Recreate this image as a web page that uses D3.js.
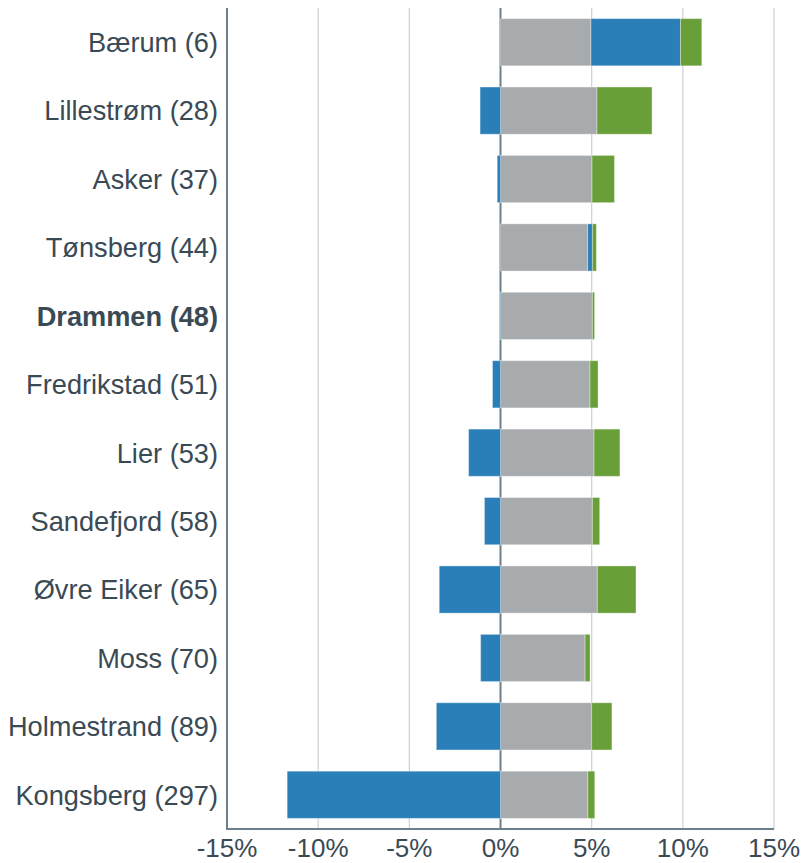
<!DOCTYPE html>
<html>
<head>
<meta charset="utf-8">
<script src="https://cdn.jsdelivr.net/npm/d3@7"></script>
<style>
  html, body { margin: 0; padding: 0; background: #fff; }
  svg { display: block; }
</style>
</head>
<body>
<svg id="chart" width="801" height="863"></svg>
<script>
const categories = ["Bærum (6)", "Lillestrøm (28)", "Asker (37)", "Tønsberg (44)", "Drammen (48)", "Fredrikstad (51)", "Lier (53)", "Sandefjord (58)", "Øvre Eiker (65)", "Moss (70)", "Holmestrand (89)", "Kongsberg (297)"];
const grayValues  = [4.96, 5.29, 5.02, 4.78, 5.04, 4.91, 5.13, 5.04, 5.31, 4.64, 5.00, 4.79];
const blueValues  = [4.91, -1.12, -0.18, 0.26, -0.03, -0.44, -1.75, -0.88, -3.36, -1.09, -3.52, -11.70];
const greenValues = [1.17, 3.02, 1.23, 0.22, 0.12, 0.44, 1.42, 0.40, 2.12, 0.27, 1.11, 0.38];
const tickValues = [-15, -10, -5, 0, 5, 10, 15];
const highlight = "Drammen (48)";

(function () {
  const keys = ["gray", "blue", "green"];
  const colors = { gray: "#a7abae", blue: "#2a7fb8", green: "#689f38" };
  const rows = categories.map((c, i) => ({ name: c, gray: grayValues[i], blue: blueValues[i], green: greenValues[i] }));

  const svg = d3.select("#chart");
  const mLeft = 227, mRight = 774, mTop = 8, mBottom = 829;

  const x = d3.scaleLinear().domain([-15, 15]).range([mLeft, mRight]);
  const y = d3.scaleBand().domain(categories).range([mTop, mBottom]).paddingInner(0.31).paddingOuter(0.155);

  const series = d3.stack().keys(keys).offset(d3.stackOffsetDiverging)(rows);

  // gridlines
  svg.append("g").selectAll("line").data(tickValues.filter(t => t !== -15 && t !== 0)).join("line")
    .attr("x1", d => x(d)).attr("x2", d => x(d))
    .attr("y1", mTop).attr("y2", mBottom)
    .attr("stroke", "#cdd6dc").attr("stroke-width", 1.3);

  // zero line
  svg.append("line")
    .attr("x1", x(0)).attr("x2", x(0)).attr("y1", mTop).attr("y2", mBottom)
    .attr("stroke", "#6c808c").attr("stroke-width", 2);

  // bars
  svg.append("g").selectAll("g").data(series).join("g")
    .attr("fill", d => colors[d.key])
    .selectAll("rect").data(d => d).join("rect")
    .attr("x", d => x(Math.min(d[0], d[1])))
    .attr("width", d => Math.abs(x(d[1]) - x(d[0])))
    .attr("y", d => y(d.data.name))
    .attr("height", y.bandwidth())
    .attr("stroke", "#ffffff").attr("stroke-opacity", 0.35).attr("stroke-width", 1);

  // axes lines
  svg.append("line").attr("x1", mLeft).attr("x2", mLeft).attr("y1", mTop).attr("y2", mBottom)
    .attr("stroke", "#6c808c").attr("stroke-width", 2);
  svg.append("line").attr("x1", mLeft - 1).attr("x2", mRight).attr("y1", mBottom).attr("y2", mBottom)
    .attr("stroke", "#6c808c").attr("stroke-width", 2);

  // category labels
  svg.append("g").selectAll("text").data(categories).join("text")
    .attr("x", mLeft - 9)
    .attr("y", d => y(d) + y.bandwidth() / 2)
    .attr("dy", "0.36em")
    .attr("text-anchor", "end")
    .attr("font-family", "Liberation Sans, Arial, sans-serif")
    .attr("font-size", 27.2)
    .attr("font-weight", d => d === highlight ? "bold" : "normal")
    .attr("fill", "#3a4a55")
    .text(d => d);

  // tick labels
  svg.append("g").selectAll("text").data(tickValues).join("text")
    .attr("x", d => x(d))
    .attr("y", 857)
    .attr("text-anchor", "middle")
    .attr("font-family", "Liberation Sans, Arial, sans-serif")
    .attr("font-size", 26)
    .attr("fill", "#3a4a55")
    .text(d => d + "%");
})();
</script>
</body>
</html>
